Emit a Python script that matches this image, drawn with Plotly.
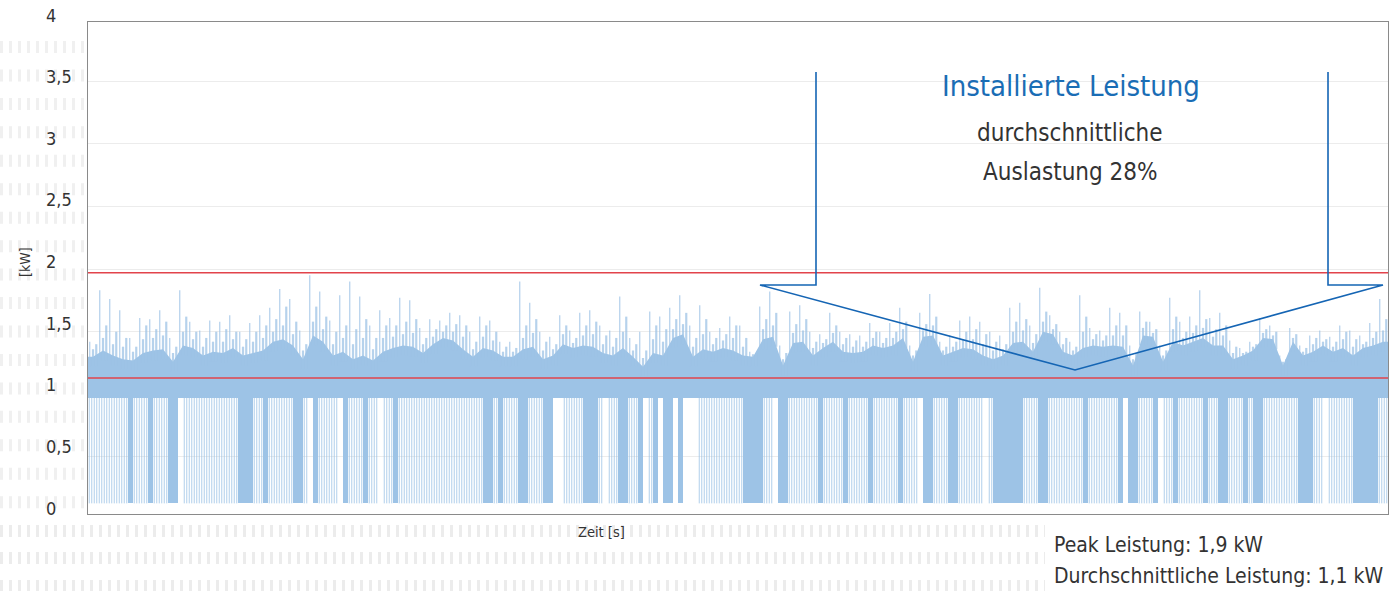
import plotly.graph_objects as go

# ---------------- data ----------------
# 130 time bins (10 px each): highest spike, second spike, third spike, top of dense band [kW]
peak_kw = [1.42,1.83,1.76,1.67,1.45,1.61,1.60,1.67,1.45,1.83,1.58,1.51,1.59,1.58,1.63,1.50,1.57,1.63,1.69,1.84,
           1.76,1.51,1.95,1.82,1.59,1.79,1.90,1.78,1.55,1.67,1.61,1.77,1.75,
           1.53,1.60,1.59,1.65,1.63,1.50,1.62,1.59,1.42,1.42,1.90,1.73,1.50,1.46,1.63,1.51,1.65,1.67,1.55,1.51,
           1.78,1.45,1.50,1.66,1.62,1.69,1.79,1.55,1.71,1.50,1.53,1.62,
           1.55,1.34,1.70,1.82,1.39,1.66,1.71,1.50,1.48,1.65,1.50,1.48,1.47,1.57,1.50,1.57,1.69,1.39,1.65,1.80,
           1.42,1.47,1.59,1.62,1.58,1.50,1.47,1.69,1.73,1.55,1.85,1.63,1.50,
           1.42,1.79,1.53,1.51,1.69,1.65,1.39,1.66,1.58,1.39,1.77,1.58,1.62,1.83,1.61,1.65,1.43,1.37,1.42,1.61,
           1.55,1.31,1.53,1.39,1.47,1.51,1.46,1.55,1.51,1.47,1.57,1.76]
spike2_kw = [1.40,1.55,1.50,1.45,1.38,1.55,1.52,1.58,1.38,1.62,1.50,1.45,1.50,1.52,1.50,1.44,1.50,1.55,1.60,1.70,
             1.58,1.40,1.70,1.62,1.50,1.55,1.52,1.60,1.45,1.55,1.55,1.58,1.60,
             1.45,1.52,1.55,1.56,1.55,1.42,1.55,1.50,1.38,1.37,1.55,1.60,1.42,1.40,1.55,1.45,1.55,1.58,1.47,1.45,
             1.62,1.40,1.35,1.55,1.52,1.60,1.65,1.45,1.60,1.45,1.48,1.55,
             1.45,1.33,1.60,1.65,1.33,1.56,1.60,1.42,1.44,1.55,1.45,1.43,1.42,1.50,1.45,1.50,1.58,1.35,1.56,1.62,
             1.38,1.42,1.50,1.52,1.48,1.42,1.40,1.58,1.60,1.48,1.66,1.56,1.45,
             1.38,1.62,1.48,1.47,1.55,1.55,1.33,1.58,1.52,1.35,1.62,1.50,1.55,1.60,1.52,1.55,1.38,1.34,1.40,1.52,
             1.50,1.28,1.48,1.37,1.45,1.44,1.42,1.50,1.44,1.42,1.50,1.60]
spike3_kw = [1.36,1.45,1.40,1.38,1.34,1.44,1.45,1.47,1.33,1.50,1.44,1.38,1.42,1.42,1.44,1.38,1.42,1.45,1.50,1.55,
             1.48,1.35,1.58,1.52,1.40,1.45,1.40,1.45,1.36,1.45,1.46,1.48,1.49,
             1.40,1.46,1.50,1.50,1.46,1.36,1.46,1.43,1.34,1.34,1.45,1.49,1.35,1.36,1.48,1.41,1.47,1.48,1.40,1.38,
             1.50,1.35,1.29,1.44,1.42,1.52,1.56,1.38,1.48,1.40,1.43,1.45,
             1.38,1.32,1.52,1.55,1.28,1.49,1.51,1.37,1.41,1.49,1.40,1.38,1.38,1.45,1.41,1.45,1.52,1.31,1.51,1.55,
             1.35,1.38,1.44,1.44,1.40,1.35,1.36,1.50,1.51,1.41,1.58,1.52,1.40,
             1.35,1.50,1.44,1.43,1.47,1.47,1.28,1.53,1.49,1.31,1.52,1.45,1.49,1.53,1.46,1.47,1.33,1.33,1.38,1.49,
             1.47,1.26,1.45,1.34,1.40,1.42,1.38,1.44,1.38,1.40,1.45,1.51]
band_top_kw = [1.30,1.35,1.31,1.28,1.27,1.33,1.35,1.36,1.26,1.39,1.37,1.31,1.34,1.33,1.37,1.31,1.33,1.35,1.42,1.44,
               1.39,1.28,1.47,1.42,1.31,1.34,1.28,1.31,1.27,1.34,1.37,1.39,1.38,
               1.33,1.40,1.45,1.43,1.36,1.30,1.37,1.35,1.30,1.30,1.36,1.38,1.28,1.31,1.40,1.37,1.39,1.38,1.33,1.31,
               1.37,1.30,1.22,1.33,1.31,1.45,1.48,1.30,1.36,1.34,1.37,1.35,
               1.31,1.30,1.44,1.46,1.23,1.41,1.42,1.31,1.37,1.42,1.34,1.33,1.34,1.39,1.37,1.39,1.45,1.26,1.46,1.47,
               1.31,1.34,1.37,1.36,1.31,1.28,1.31,1.41,1.42,1.34,1.50,1.48,1.34,
               1.31,1.37,1.39,1.38,1.39,1.38,1.23,1.47,1.46,1.26,1.42,1.39,1.42,1.45,1.39,1.39,1.28,1.31,1.35,1.45,
               1.44,1.23,1.42,1.31,1.34,1.39,1.34,1.37,1.31,1.37,1.39,1.42]
# 260 time bins (5 px each): drop-outs to the floor, 0 = none, 1 = sparse, 2 = dense
drop_code = [1,1,1,1,1,1,1,1,2,1, 1,1,2,1,1,1,2,2,0,1, 1,1,1,1,1,1,1,1,1,1, 2,2,2,1,1,2,1,1,1,1,
             1,2,2,1,0,2,1,1,1,1, 0,2,1,1,1,2,1,1,0,1, 1,2,1,1,1,1,1,1,1,1, 1,1,1,1,1,1,1,1,1,2,
             2,1,2,1,1,1,2,2,1,1, 1,2,2,0,0,1,1,1,1,2, 2,2,1,0,1,1,2,2,1,1, 2,0,1,2,0,2,2,0,2,0,
             0,0,1,1,1,1,1,1,1,1, 1,2,2,2,2,1,1,0,2,2, 1,1,1,1,1,1,2,1,1,1, 1,2,1,1,1,1,2,1,1,1,
             1,1,2,1,1,1,0,2,2,1, 1,1,2,2,1,1,1,1,1,0, 1,2,2,2,2,2,2,1,1,1, 2,2,1,1,1,1,1,1,1,2,
             1,1,1,1,1,1,2,0,2,2, 1,1,1,2,0,1,1,2,1,1, 1,1,1,2,1,1,2,2,1,1, 1,2,1,2,2,1,1,1,1,1,
             1,1,2,2,2,1,1,0,1,1, 1,1,1,2,2,2,2,2,1,1]
band_floor_kw = 0.97
drop_floor_kw = 0.13
peak_line_kw = 1.97
avg_line_kw = 1.13
y_tick_values = [0, 0.5, 1, 1.5, 2, 2.5, 3, 3.5, 4]
y_tick_labels = ["0", "0,5", "1", "1,5", "2", "2,5", "3", "3,5", "4"]

# ---------------- styling ----------------
W, H = 1393, 591
L, R, T, B = 88, 5, 22, 77
PW, PH = W - L - R, H - T - B
FONT = "DejaVu Sans Condensed, Liberation Sans Narrow, Roboto, sans-serif"
BLUE = "#9dc3e6"
BLUE_T = "rgba(157,195,230,0.8)"
TXT = "#333333"


def px(x):
    return (x - L) / PW


def py(y):
    return (H - B - y) / PH


fig = go.Figure()

# dense drop-out blocks
dense_x = [i + 0.5 for i, c in enumerate(drop_code) if c == 2]
fig.add_trace(go.Bar(x=dense_x, y=[band_floor_kw + 0.01 - drop_floor_kw] * len(dense_x),
                     base=drop_floor_kw, width=1.0, marker=dict(color=BLUE, line=dict(width=0)),
                     hoverinfo="skip", showlegend=False))

# sparse drop-out lines
sx, sy = [], []
for i, c in enumerate(drop_code):
    if c == 1:
        for off in (0.25, 0.75):
            sx += [i + off, i + off, None]
            sy += [drop_floor_kw, band_floor_kw + 0.01, None]
fig.add_trace(go.Scatter(x=sx, y=sy, mode="lines", line=dict(color=BLUE_T, width=1),
                         hoverinfo="skip", showlegend=False))

# dense band
n = len(band_top_kw)
bx = [0] + [2 * k + 1 for k in range(n)] + [2 * n, 2 * n, 0]
by = [band_top_kw[0]] + band_top_kw + [band_top_kw[-1], band_floor_kw, band_floor_kw]
fig.add_trace(go.Scatter(x=bx, y=by, mode="lines", fill="toself", fillcolor=BLUE,
                         line=dict(width=0, color=BLUE), hoverinfo="skip", showlegend=False))

# medium spikes (wider, semi-transparent)
mx, my = [], []
for k in range(n):
    for off, top in ((1.0, spike3_kw[k]), (1.65, spike2_kw[k])):
        mx += [2 * k + off, 2 * k + off, None]
        my += [band_top_kw[k] - 0.08, top, None]
fig.add_trace(go.Scatter(x=mx, y=my, mode="lines", line=dict(color="rgba(157,195,230,0.75)", width=2.2),
                         hoverinfo="skip", showlegend=False))

# tallest spikes (thin)
kx, ky = [], []
for k in range(n):
    kx += [2 * k + 0.35, 2 * k + 0.35, None]
    ky += [band_top_kw[k] - 0.08, peak_kw[k], None]
fig.add_trace(go.Scatter(x=kx, y=ky, mode="lines", line=dict(color="rgba(157,195,230,0.8)", width=1.2),
                         hoverinfo="skip", showlegend=False))

shapes = []
# decorative background stripes
row = 47.0
while row < 505:
    shapes.append(dict(type="line", xref="paper", yref="paper", x0=px(0), x1=px(84), y0=py(row), y1=py(row),
                       line=dict(color="#f0f0f0", width=12, dash="3px,6px"), layer="below"))
    row += 28.45
for row in (531, 558, 586):
    shapes.append(dict(type="line", xref="paper", yref="paper", x0=px(0), x1=px(1045), y0=py(row), y1=py(row),
                       line=dict(color="#ececec", width=12, dash="3px,6px"), layer="below"))

# red reference lines
for v in (peak_line_kw, avg_line_kw):
    shapes.append(dict(type="line", xref="paper", yref="y", x0=0, x1=1, y0=v, y1=v,
                       line=dict(color="#e2434b", width=1.6), layer="above"))

# blue callout outline
pts = [(816, 72), (816, 285), (760, 285), (1075, 370), (1383, 285), (1328, 285), (1328, 72)]
path = "M " + " L ".join(f"{px(a):.5f},{py(b):.5f}" for a, b in pts)
shapes.append(dict(type="path", xref="paper", yref="paper", path=path,
                   line=dict(color="#1565b4", width=1.6), layer="above"))

ann = []
for v, lab in zip(y_tick_values, y_tick_labels):
    cy = 15 + (4 - v) * 123.25
    ann.append(dict(x=px(44), y=py(cy), xref="paper", yref="paper", text=lab, showarrow=False,
                    xanchor="left", yanchor="middle", font=dict(family=FONT, size=18, color=TXT)))
ann.append(dict(x=px(25), y=py(262), xref="paper", yref="paper", text="[kW]", textangle=-90,
                showarrow=False, xanchor="center", yanchor="middle", font=dict(family=FONT, size=14, color=TXT)))
ann.append(dict(x=px(601), y=py(532), xref="paper", yref="paper", text="Zeit [s]",
                showarrow=False, xanchor="center", yanchor="middle", font=dict(family=FONT, size=14.5, color=TXT)))
ann.append(dict(x=px(1071), y=py(86), xref="paper", yref="paper", text="Installierte Leistung",
                showarrow=False, xanchor="center", yanchor="middle", font=dict(family=FONT, size=29, color="#1a6db5")))
ann.append(dict(x=px(1070), y=py(133), xref="paper", yref="paper", text="durchschnittliche",
                showarrow=False, xanchor="center", yanchor="middle", font=dict(family=FONT, size=24, color=TXT)))
ann.append(dict(x=px(1070), y=py(172), xref="paper", yref="paper", text="Auslastung 28%",
                showarrow=False, xanchor="center", yanchor="middle", font=dict(family=FONT, size=24, color=TXT)))
ann.append(dict(x=px(1052), y=py(545), xref="paper", yref="paper", text="Peak Leistung: 1,9 kW",
                showarrow=False, xanchor="left", yanchor="middle", font=dict(family=FONT, size=21, color=TXT)))
ann.append(dict(x=px(1052), y=py(576), xref="paper", yref="paper", text="Durchschnittliche Leistung: 1,1 kW",
                showarrow=False, xanchor="left", yanchor="middle", font=dict(family=FONT, size=21, color=TXT)))

fig.update_layout(
    width=W, height=H, autosize=False,
    margin=dict(l=L, r=R, t=T, b=B, pad=0),
    paper_bgcolor="white", plot_bgcolor="white",
    barmode="overlay", bargap=0, showlegend=False,
    shapes=shapes, annotations=ann,
    xaxis=dict(range=[0, 2 * n], showgrid=False, zeroline=False, showticklabels=False, ticks="",
               showline=True, linecolor="#8a8a8a", linewidth=1, mirror=True),
    yaxis=dict(range=[0.045, 3.971], tick0=0, dtick=0.5, showgrid=True, gridcolor="#ececec", gridwidth=1,
               zeroline=False, showticklabels=False, ticks="",
               showline=True, linecolor="#8a8a8a", linewidth=1, mirror=True),
)

fig.write_html("out.html", config={"displayModeBar": False},
               post_script="document.body.style.margin='0px';document.body.style.padding='0px';")
